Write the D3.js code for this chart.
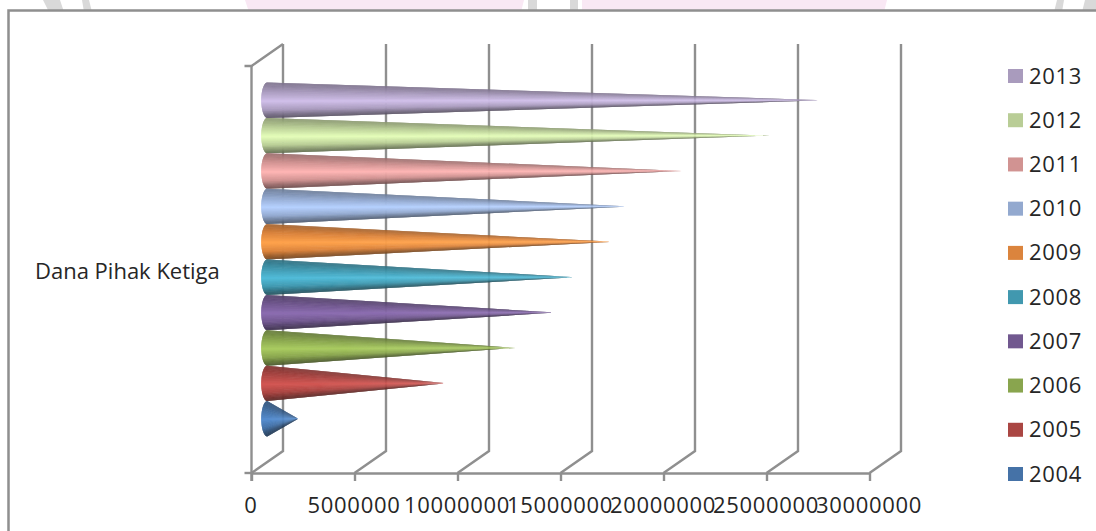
<!DOCTYPE html>
<html>
<head>
<meta charset="utf-8">
<title>Dana Pihak Ketiga</title>
<script src="https://cdn.jsdelivr.net/npm/d3@7"></script>
<style>
  html, body { margin: 0; padding: 0; background: #fff; overflow: hidden; }
  svg { display: block; }
  text { font-family: "Open Sans", sans-serif; fill: #262626; }
</style>
</head>
<body>
<svg id="chart"></svg>
<script>
const years = [2004, 2005, 2006, 2007, 2008, 2009, 2010, 2011, 2012, 2013];
const values = [1500000, 8700000, 12050000, 14000000, 14950000, 16850000, 17600000, 20150000, 24400000, 27000000];
const colors = ['#4572A7', '#AA4643', '#89A54E', '#71588F', '#4198AF', '#DB843D', '#93A9CF', '#D19392', '#B9CD96', '#A99BBD'];
const xTicks = [0, 5000000, 10000000, 15000000, 20000000, 25000000, 30000000];
const category = 'Dana Pihak Ketiga';

const width = 1096, height = 531;
const plotLeft = 251.5, plotRight = 869.5, plotTop = 66, plotBottom = 473;
const depthX = 31.5, depthY = -22;
const axisColor = '#8f8f8f';

const svg = d3.select('#chart').attr('width', width).attr('height', height);

// page decoration above the chart frame
const pink = '#f9e8f4', grey = '#d9d9d9';
[
  [[245, 0], [524, 0], [521, 12], [249, 12], pink],
  [[582, 0], [887, 0], [884, 12], [582, 12], pink],
  [[43, 0], [60, 0], [64, 12], [49, 12], grey],
  [[82, 0], [89, 0], [92, 12], [84, 12], grey],
  [[528, 0], [537, 0], [537, 12], [528, 12], grey],
  [[570, 0], [578, 0], [578, 12], [570, 12], grey],
  [[1057, 0], [1064, 0], [1062, 12], [1054, 12], grey],
  [[1085, 0], [1096, 0], [1096, 12], [1082, 12], grey]
].forEach(d => {
  svg.append('polygon')
      .attr('points', d.slice(0, 4).join(' '))
      .attr('fill', d[4]);
});

// chart frame, runs off the right and bottom of the picture
svg.append('rect')
    .attr('x', 8.5).attr('y', 10.5)
    .attr('width', width + 20).attr('height', height + 20)
    .attr('fill', '#fff')
    .attr('stroke', axisColor)
    .attr('stroke-width', 2.5);

const xScale = d3.scaleLinear().domain([0, 30000000]).range([plotLeft, plotRight]);

// the cones sit half way into the depth of the floor
const yScale = d3.scaleBand()
    .domain(years.slice().reverse())
    .range([plotTop + depthY / 2 + 1, plotBottom + depthY / 2 + 1])
    .paddingInner(0)
    .paddingOuter(0.75);

// walls
const walls = svg.append('g')
    .attr('fill', 'none')
    .attr('stroke', axisColor)
    .attr('stroke-width', 2.4);

walls.selectAll('.wall')
    .data(xTicks)
  .join('path')
    .attr('class', 'wall')
    .attr('d', d => {
      const x = xScale(d);
      return `M${x},${plotBottom}L${x + depthX},${plotBottom + depthY}L${x + depthX},${plotTop + depthY}`;
    });

walls.append('path')
    .attr('d', `M${plotLeft - 7},${plotTop}H${plotLeft}L${plotLeft + depthX},${plotTop + depthY}`);
walls.append('path')
    .attr('d', `M${plotLeft},${plotTop}V${plotBottom + 8}`);
walls.append('path')
    .attr('d', `M${plotLeft - 7},${plotBottom}H${plotLeft}`);

// value axis
const xAxis = d3.axisBottom(xScale)
    .tickValues(xTicks)
    .tickSizeInner(8)
    .tickSizeOuter(0)
    .tickFormat(d3.format('d'));

const xAxisG = svg.append('g')
    .attr('transform', `translate(0,${plotBottom})`)
    .call(xAxis);

xAxisG.select('.domain').attr('stroke', axisColor).attr('stroke-width', 2.4);
xAxisG.selectAll('.tick line').attr('stroke', axisColor).attr('stroke-width', 2.4);
xAxisG.selectAll('.tick text')
    .attr('y', 40)
    .attr('dy', 0)
    .attr('dx', -1)
    .style('font-family', '"Open Sans", sans-serif')
    .style('font-size', '22px')
    .style('letter-spacing', '0.7px')
    .attr('fill', '#262626');

// category label
svg.append('text')
    .attr('x', 35)
    .attr('y', 279)
    .style('font-size', '22px')
    .text(category);

// cones: a fan of thin triangles from the base ellipse to the tip
const baseX = xScale(0) + depthX / 2;
const baseRx = 6;
const steps = d3.range(-36, 36).map(i => i / 36 * Math.PI / 2);

const shade = c => d3.scaleLinear()
    .domain([-1, -0.5, 0.05, 0.55, 1])
    .range([
      d3.color(c).darker(0.85),
      d3.color(c),
      d3.color(c).brighter(0.6),
      d3.color(c),
      d3.color(c).darker(1.8)
    ].map(String));

const conePoint = (a, r, cy) => [baseX - baseRx * Math.cos(a), cy + r * Math.sin(a)];

const defs = svg.append('defs');

const cones = svg.selectAll('.cone')
    .data(years.map((y, i) => ({year: y, value: values[i], color: colors[i]})).reverse())
  .join('g')
    .attr('class', 'cone');

cones.each(function(d) {
  const r = yScale.bandwidth() / 2;
  const cy = yScale(d.year) + r;
  const tipX = xScale(d.value) + depthX / 2;
  const s = shade(d.color);
  const da = Math.PI / 72;

  // the point of the cone fades a little over its last stretch
  const grad = defs.append('linearGradient')
      .attr('id', `fade${d.year}`)
      .attr('gradientUnits', 'userSpaceOnUse')
      .attr('x1', tipX - 25).attr('x2', tipX)
      .attr('y1', 0).attr('y2', 0);
  grad.append('stop').attr('offset', 0).attr('stop-color', '#fff');
  grad.append('stop').attr('offset', 1).attr('stop-color', '#aaa');

  defs.append('mask')
      .attr('id', `mask${d.year}`)
      .attr('maskUnits', 'userSpaceOnUse')
      .attr('x', baseX - baseRx - 2).attr('y', cy - r - 2)
      .attr('width', tipX - baseX + baseRx + 4).attr('height', 2 * r + 4)
    .append('rect')
      .attr('x', baseX - baseRx - 2).attr('y', cy - r - 2)
      .attr('width', tipX - baseX + baseRx + 4).attr('height', 2 * r + 4)
      .attr('fill', `url(#fade${d.year})`);

  // each triangle is two steps wide so the next one covers the seam
  d3.select(this)
      .attr('mask', d.value > 5000000 ? `url(#mask${d.year})` : null)
    .selectAll('path')
      .data(steps)
    .join('path')
      .attr('d', a => {
        const p = conePoint(a, r, cy), q = conePoint(Math.min(a + 2 * da, Math.PI / 2), r, cy);
        return `M${p}L${q}L${tipX},${cy}Z`;
      })
      .attr('fill', a => s(Math.sin(a + da / 2)));
});

// legend
const legendY = d3.scalePoint()
    .domain(years.slice().reverse())
    .range([76, 474]);

const legend = svg.selectAll('.legend')
    .data(years.map((y, i) => ({year: y, color: colors[i]})))
  .join('g')
    .attr('class', 'legend')
    .attr('transform', d => `translate(1008,${legendY(d.year)})`);

legend.append('rect')
    .attr('y', -7)
    .attr('width', 15)
    .attr('height', 14)
    .attr('fill', d => d.color);

legend.append('text')
    .attr('x', 21)
    .attr('y', 7.5)
    .style('font-size', '22px')
    .style('letter-spacing', '0.7px')
    .text(d => d.year);
</script>
</body>
</html>
